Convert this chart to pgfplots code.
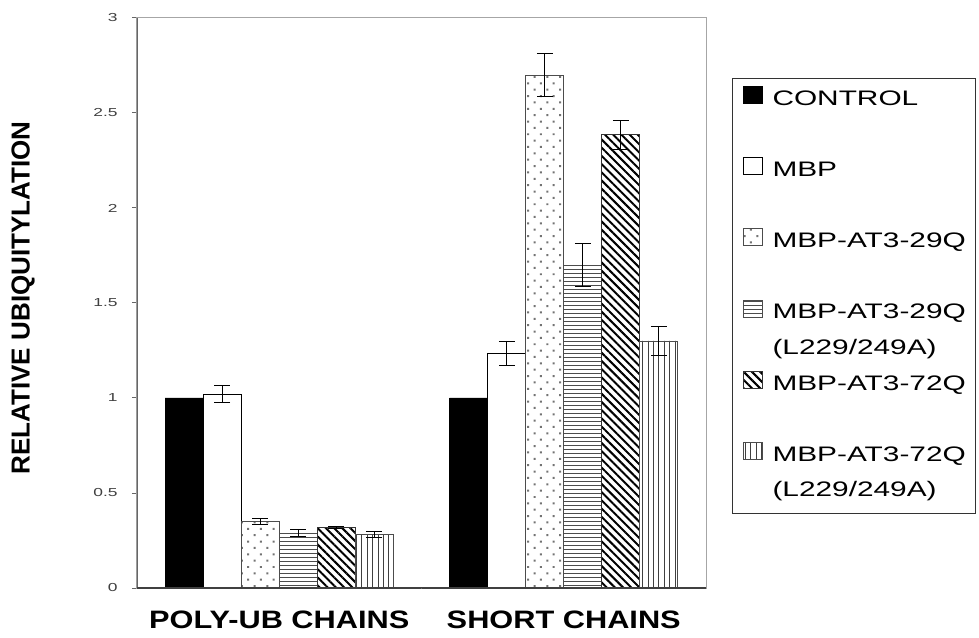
\documentclass[border=0pt]{standalone}
\usepackage{fontspec}
\setmainfont{Liberation Sans}
\newfontfamily\xlabfont[FakeStretch=1.22]{Liberation Sans}
\newfontfamily\legfontfam[FakeStretch=1.42]{Liberation Sans}
\newfontfamily\tickfontfam[FakeStretch=1.5]{Liberation Sans}
\usepackage{pgfplots}
\pgfplotsset{compat=1.18}
\usetikzlibrary{patterns.meta}
\newcommand{\legfont}{\legfontfam\fontsize{10.5}{12}\selectfont}
\newcommand{\tickfont}{\tickfontfam\fontsize{5.8}{6.5}\selectfont}
\tikzset{
  pdots/.style={draw=black!70, line width=0.4pt, pattern={Dots[distance=4.5pt, radius=0.7pt, angle=45]}, pattern color=black!55},
  phor/.style={draw=black!70, line width=0.4pt, pattern={Lines[angle=0, distance=2pt, line width=0.4pt]}, pattern color=black!70},
  pdiag/.style={draw=black!80, line width=0.4pt, pattern={Lines[angle=-45, distance=2.9pt, line width=1pt]}, pattern color=black},
  pver/.style={draw=black!70, line width=0.4pt, pattern={Lines[angle=90, distance=2.7pt, line width=0.5pt]}, pattern color=black!75},
}
\pgfplotsset{
  myerr/.style={error bars/.cd, y dir=both, y explicit,
    error bar style={black, line width=0.5pt},
    error mark options={rotate=90, black, mark size=4pt, line width=0.5pt}},
}
\begin{document}
\begin{tikzpicture}
\begin{axis}[
  scale only axis,
  width=284.5pt, height=285pt,
  ybar, bar width=19pt,
  xmin=-0.5, xmax=1.5,
  ymin=0, ymax=3,
  ytick={0,0.5,1,1.5,2,2.5,3},
  xtick={0,1},
  xticklabels={POLY-UB CHAINS, SHORT CHAINS},
  /pgf/number format/assume math mode=true,
  yticklabel style={font=\tickfont, text=black!75, inner sep=0pt, xshift=-7pt},
  xticklabel style={font={\xlabfont\bfseries\fontsize{12.6}{14}\selectfont}, inner sep=0pt, yshift=-9pt},
  x tick style={draw=none},
  y tick style={draw=black!60, line width=0.5pt},
  tick align=outside, tick pos=left, major tick length=2.5pt,
  axis line style={draw=black!35, line width=0.5pt},
  ylabel={RELATIVE UBIQUITYLATION},
  every axis y label/.style={at={(axis description cs:-0.2,0.509)}, rotate=90, anchor=center,
     font={\bfseries\fontsize{13}{15}\selectfont}},
  legend cell align=left,
  legend image code/.code={\draw[#1] (0pt,-1.5pt) rectangle (9.5pt,7pt);},
  legend style={draw=black!80, line width=0.5pt, at={(1,1)}, anchor=north west,
    xshift=13pt, yshift=-30pt, inner xsep=5pt, inner ysep=2pt, row sep=0pt,
    nodes={font=\legfont, text height=7.5pt, text depth=2.5pt, inner ysep=3.9pt, inner xsep=0pt},
    /tikz/every odd column/.append style={column sep=5pt}},
]
\addplot[forget plot, bar shift=-47.5pt, fill=black, draw=black, line width=0.4pt] coordinates {(0,1.0) (1,1.0)};
\addplot[forget plot, bar shift=-28.5pt, fill=white, draw=black, line width=0.5pt, myerr]
  coordinates {(0,1.02) +- (0,0.045) (1,1.235) +- (0,0.065)};
\addplot[forget plot, bar shift=-9.5pt, pdots, myerr]
  coordinates {(0,0.35) +- (0,0.015) (1,2.70) +- (0,0.115)};
\addplot[forget plot, bar shift=9.5pt, phor, myerr]
  coordinates {(0,0.29) +- (0,0.02) (1,1.70) +- (0,0.115)};
\addplot[forget plot, bar shift=28.5pt, pdiag, myerr]
  coordinates {(0,0.32) +- (0,0.006) (1,2.385) +- (0,0.075)};
\addplot[forget plot, bar shift=47.5pt, pver, myerr]
  coordinates {(0,0.28) +- (0,0.016) (1,1.30) +- (0,0.074)};
% axis decorations
\draw[black!60, line width=1.5pt] (rel axis cs:0,0) -- (rel axis cs:0,1);
\draw[black!75, line width=0.8pt] (rel axis cs:0,0) -- (rel axis cs:1,0);
\draw[black!60, line width=0.6pt] (axis cs:0.5,0) -- ([yshift=-3pt]axis cs:0.5,0);
% legend
\addlegendimage{fill=black, draw=black}
\addlegendentry{CONTROL}
\addlegendimage{empty legend}\addlegendentry{}
\addlegendimage{fill=white, draw=black, line width=0.5pt}
\addlegendentry{MBP}
\addlegendimage{empty legend}\addlegendentry{}
\addlegendimage{pdots}
\addlegendentry{MBP-AT3-29Q}
\addlegendimage{empty legend}\addlegendentry{}
\addlegendimage{phor}
\addlegendentry{MBP-AT3-29Q}
\addlegendimage{empty legend}\addlegendentry{(L229/249A)}
\addlegendimage{pdiag}
\addlegendentry{MBP-AT3-72Q}
\addlegendimage{empty legend}\addlegendentry{}
\addlegendimage{pver}
\addlegendentry{MBP-AT3-72Q}
\addlegendimage{empty legend}\addlegendentry{(L229/249A)}
\end{axis}
\pgfresetboundingbox
\path ([xshift=-68.5pt,yshift=-24.5pt]current axis.south west) rectangle ([xshift=136.5pt,yshift=9pt]current axis.north east);
\end{tikzpicture}
\end{document}
